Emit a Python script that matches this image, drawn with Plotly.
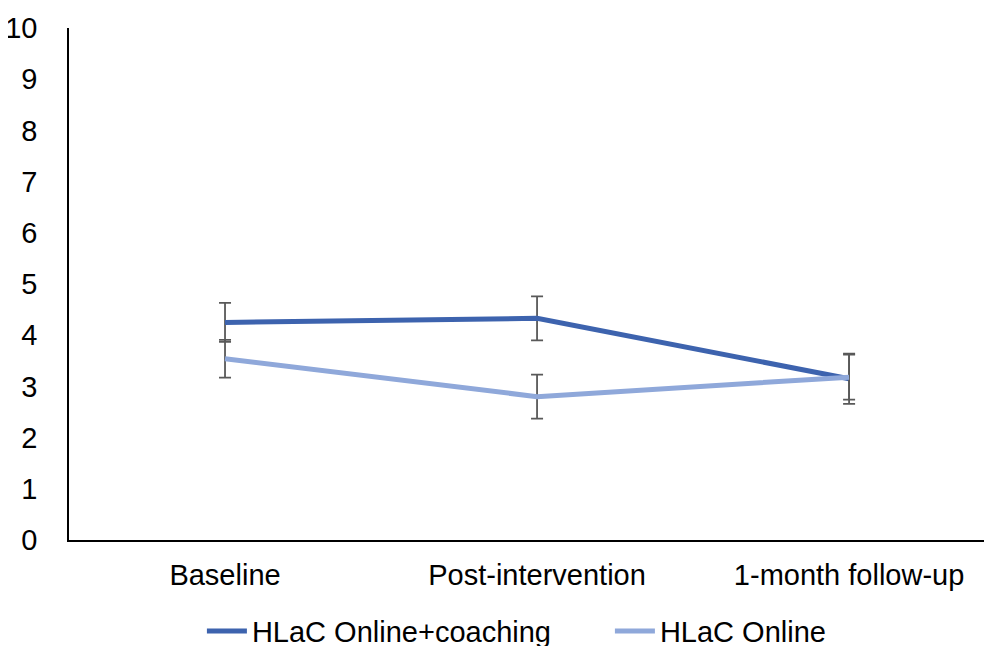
import plotly.graph_objects as go

categories = ["Baseline", "Post-intervention", "1-month follow-up"]
coaching = [4.25, 4.33, 3.15]
coaching_err = [0.38, 0.43, 0.49]
online = [3.54, 2.80, 3.18]
online_err = [0.37, 0.43, 0.44]
y_ticks = list(range(0, 11))

FONT = "Liberation Sans, Arial, sans-serif"
fig = go.Figure()
fig.add_trace(go.Scatter(
    x=categories, y=coaching, mode="lines", name="HLaC Online+coaching",
    line=dict(color="#3D63AE", width=5),
    error_y=dict(type="data", array=coaching_err, visible=True, color="#595959", thickness=1.8, width=6),
))
fig.add_trace(go.Scatter(
    x=categories, y=online, mode="lines", name="HLaC Online",
    line=dict(color="#8FA8DA", width=5),
    error_y=dict(type="data", array=online_err, visible=True, color="#595959", thickness=1.8, width=6),
))
# page body has an 8px margin, so the figure is sized to end at the window edge
fig.update_layout(
    width=984, height=638,
    margin=dict(l=61, r=0, t=20, b=106, autoexpand=False),
    paper_bgcolor="white", plot_bgcolor="white",
    font=dict(family=FONT, size=29, color="black"),
    showlegend=True,
    legend=dict(orientation="h", x=0.144, xanchor="left", y=-0.178, yanchor="middle",
                font=dict(size=29), itemwidth=40, entrywidth=353, entrywidthmode="pixels"),
    xaxis=dict(type="category", range=[-0.5, 2.458], showline=True, linecolor="black", linewidth=1.5,
               showgrid=False, ticks="", ticklabelstandoff=8, zeroline=False, automargin=False),
    yaxis=dict(range=[0, 10], tickvals=y_ticks, showline=True, linecolor="black", linewidth=1.5,
               showgrid=False, ticks="", ticklabelstandoff=24, zeroline=False, automargin=False),
)
fig.write_html("out.html")
